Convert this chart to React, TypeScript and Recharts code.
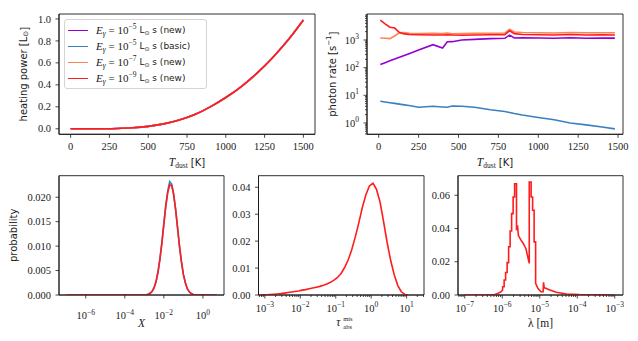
import React from "react";
import { LineChart, Line, XAxis, YAxis, Legend, ReferenceArea } from "recharts";

const SERIF = "'Liberation Serif', 'DejaVu Serif', serif";
const SANS = "'DejaVu Sans', 'Liberation Sans', sans-serif";
const INK = "#1a1a1a";
const TICK_FS = 10.5;
const SPINE = { stroke: INK, strokeWidth: 0.9 };

// series, in legend order
const seriesColors = ["#9400d3", "#3b7fc2", "#ff8356", "#ff1c1c"];
const seriesExp = [-5, -5, -7, -9];
const seriesKind = ["new", "basic", "new", "new"];

// heating power [Lsun] vs T_dust
const heatT = [0, 100, 200, 300, 400, 500, 600, 700, 800, 900, 1000, 1100, 1200, 1300, 1400, 1500];
const heatP = [0, 0.0001, 0.0008, 0.003, 0.009, 0.022, 0.045, 0.08, 0.13, 0.2, 0.285, 0.385, 0.505, 0.645, 0.805, 0.99];

// photon rate [1/s] vs T_dust
const rateT = [10, 40, 70, 100, 130, 160, 190, 250, 340, 400, 430, 460, 520, 600, 700, 790, 820, 850, 900, 1000, 1100, 1200, 1300, 1400, 1480];
const rateNew5 = [130, 151, 176, 204, 237, 276, 321, 433, 680, 510, 860, 870, 1000, 1050, 1120, 1150, 1500, 1180, 1200, 1180, 1150, 1200, 1150, 1180, 1170];
const rateBasic5 = [6.1, 5.75, 5.4, 5.1, 4.8, 4.5, 4.25, 3.7, 4.0, 3.8, 3.7, 4.1, 4.0, 3.7, 3.0, 2.6, 2.4, 2.2, 1.95, 1.58, 1.3, 1.0, 0.85, 0.71, 0.61];
const rateNew7 = [1180, 1150, 1120, 1400, 1850, 1850, 1740, 1700, 1740, 1700, 1780, 1660, 1700, 1740, 1740, 1780, 2450, 1950, 1860, 1820, 1780, 1860, 1820, 1820, 1820];
const rateNew9 = [5250, 3800, 2900, 2700, 1850, 1660, 1580, 1550, 1510, 1510, 1550, 1510, 1480, 1510, 1550, 1560, 2150, 1700, 1580, 1550, 1520, 1580, 1520, 1540, 1520];

// probability of X (log10 of X)
const xExp = [-7.0, -3.1, -3.0, -2.9, -2.8, -2.7, -2.6, -2.5, -2.4, -2.3, -2.2, -2.1, -2.0, -1.9, -1.8, -1.7, -1.6, -1.5, -1.4, -1.3, -1.2, -1.1, -1.0, -0.9, -0.8, -0.7, -0.6, -0.5, -0.4, -0.3, 0.7];
const xProbRed = [0, 0, 0.00002, 0.00006, 0.00015, 0.00035, 0.00075, 0.0015, 0.00275, 0.0047, 0.0074, 0.0107, 0.0145, 0.0182, 0.021, 0.0225, 0.0224, 0.0206, 0.0175, 0.0138, 0.01, 0.0068, 0.0042, 0.0025, 0.0013, 0.00065, 0.0003, 0.00012, 0.00004, 0, 0];
const xProbBlue = [0, 0, 0.00002, 0.00006, 0.00015, 0.00035, 0.00075, 0.0015, 0.00275, 0.0047, 0.0074, 0.0107, 0.0146, 0.0184, 0.0213, 0.0232, 0.0227, 0.0207, 0.0176, 0.0138, 0.01, 0.0068, 0.0042, 0.0025, 0.0013, 0.00065, 0.0003, 0.00012, 0.00004, 0, 0];

// probability of tau_abs^mis (bin centres, log10)
const tauExp = [-3.15, -3.05, -2.95, -2.85, -2.75, -2.65, -2.55, -2.45, -2.35, -2.25, -2.15, -2.05, -1.95, -1.85, -1.75, -1.65, -1.55, -1.45, -1.35, -1.25, -1.15, -1.05, -0.95, -0.85, -0.75, -0.65, -0.55, -0.45, -0.35, -0.25, -0.15, -0.05, 0.05, 0.15, 0.25, 0.35, 0.45, 0.55, 0.65, 0.75, 0.85, 0.95, 1.05];
const tauProb = [0, 0.0001, 0.0001, 0.0002, 0.0003, 0.0004, 0.0005, 0.0007, 0.0009, 0.0011, 0.0013, 0.0015, 0.0018, 0.002, 0.0023, 0.0026, 0.0029, 0.0032, 0.0036, 0.0041, 0.0047, 0.0055, 0.0065, 0.008, 0.0102, 0.013, 0.0168, 0.0215, 0.0268, 0.0325, 0.0372, 0.0405, 0.0415, 0.0392, 0.0345, 0.0272, 0.0195, 0.0128, 0.0075, 0.0035, 0.0012, 0.0002, 0];

// probability of wavelength (log10 of lambda in m)
const lamExp = [-7.0, -6.3, -6.2, -6.11, -6.03, -5.99, -5.99, -5.95, -5.95, -5.91, -5.91, -5.87, -5.87, -5.83, -5.83, -5.79, -5.79, -5.75, -5.75, -5.71, -5.71, -5.67, -5.67, -5.62, -5.62, -5.59, -5.57, -5.55, -5.5, -5.44, -5.37, -5.33, -5.28, -5.28, -5.23, -5.23, -5.19, -5.19, -5.15, -5.15, -5.11, -5.11, -5.05, -4.97, -4.91, -4.9, -4.88, -4.84, -4.73, -4.56, -4.29, -3.94, -3.5, -3.0];
const lamProb = [0, 0, 0.0003, 0.001, 0.002, 0.003, 0.005, 0.005, 0.009, 0.009, 0.0135, 0.0135, 0.0195, 0.0195, 0.029, 0.029, 0.0385, 0.0385, 0.049, 0.049, 0.059, 0.059, 0.067, 0.067, 0.04, 0.041, 0.036, 0.035, 0.033, 0.031, 0.028, 0.024, 0.019, 0.068, 0.068, 0.059, 0.059, 0.051, 0.051, 0.032, 0.032, 0.007, 0.004, 0.002, 0.002, 0.0076, 0.0045, 0.004, 0.003, 0.0016, 0.0006, 0.0002, 0.00005, 0];

// ticks
const tempTicks = [0, 250, 500, 750, 1000, 1250, 1500];
const heatTicks = [0, 0.2, 0.4, 0.6, 0.8, 1.0];
const xProbTicks = [0, 0.005, 0.01, 0.015, 0.02];
const tauProbTicks = [0, 0.01, 0.02, 0.03, 0.04];
const lamProbTicks = [0, 0.02, 0.04, 0.06];
const xMajorExp = [-6, -4, -2, 0];

// axis limits (log10 where the axis is logarithmic)
const tempLimL = [-75, 1575];
const tempLimR = [-73.5, 1531];
const heatLim = [-0.05, 1.045];
const rateLim = [-0.41, 3.94];
const xLim = [-7.37, 1.08];
const xProbLim = [0, 0.0244];
const tauLim = [-3.18, 1.49];
const tauProbLim = [0, 0.0443];
const lamLim = [-7.18, -2.78];
const lamProbLim = [0, 0.0718];

const pow10 = (e: number) => Math.pow(10, e);
const logTicks = (lo: number, hi: number) => {
  const out: number[] = [];
  for (let e = Math.floor(lo); e <= Math.ceil(hi); e++) {
    for (let m = 1; m <= 9; m++) {
      const v = m * pow10(e);
      const le = Math.log10(v);
      if (le >= lo && le <= hi) out.push(v);
    }
  }
  return out;
};
const isDecade = (v: number) => {
  const e = Math.log10(v);
  return Math.abs(e - Math.round(e)) < 1e-9;
};
const supTxt = (e: number) => (e < 0 ? `\u2212${-e}` : `${e}`);
const powLabel = (v: number) => {
  const e = Math.round(Math.log10(v));
  return [
    "10",
    <tspan key="s" dy={-4.5} fontSize={7.5}>
      {supTxt(e)}
    </tspan>,
  ];
};

type Fmt = (v: number) => React.ReactNode;

const bottomTick = (fmt: Fmt, log = false, gap = 16) => (p: any) => {
  const v = p.payload.value;
  const major = !log || isDecade(v);
  return (
    <g>
      <line x1={p.x} x2={p.x} y1={p.y} y2={p.y + (major ? 3.5 : 2)} stroke={INK} strokeWidth={0.8} />
      {major && (
        <text x={p.x} y={p.y + gap} textAnchor="middle" fontFamily={SERIF} fontSize={TICK_FS} fill={INK}>
          {fmt(v)}
        </text>
      )}
    </g>
  );
};

const leftTick = (fmt: Fmt, log = false) => (p: any) => {
  const v = p.payload.value;
  const major = !log || isDecade(v);
  return (
    <g>
      <line x1={p.x} x2={p.x - (major ? 3.5 : 2)} y1={p.y} y2={p.y} stroke={INK} strokeWidth={0.8} />
      {major && (
        <text x={p.x - 8} y={p.y + 3.6} textAnchor="end" fontFamily={SERIF} fontSize={TICK_FS} fill={INK}>
          {fmt(v)}
        </text>
      )}
    </g>
  );
};

const yTitle = (dist: number, body: React.ReactNode) => (p: any) => {
  const vb = p.viewBox;
  const cx = vb.x + vb.width - dist;
  const cy = vb.y + vb.height / 2;
  return (
    <text x={cx} y={cy} transform={`rotate(-90 ${cx} ${cy})`} textAnchor="middle" dominantBaseline="central" fontFamily={SANS} fontSize={10} fill={INK}>
      {body}
    </text>
  );
};

const xTitle = (body: React.ReactNode) => (p: any) => {
  const vb = p.viewBox;
  return (
    <text x={vb.x + vb.width / 2} y={vb.y + 31.5} textAnchor="middle" fontFamily={SERIF} fontSize={11.5} fill={INK}>
      {body}
    </text>
  );
};

const tDust = (
  <>
    <tspan fontStyle="italic">T</tspan>
    <tspan fontSize={7.5} dy={2}>dust</tspan>
    <tspan fontFamily={SANS} fontSize={10} dx={3} dy={-2}>[K]</tspan>
  </>
);

const fix = (n: number) => (v: number) => v.toFixed(n);

// the four spines, as a rectangle spanning both axis domains
const frame = (xl: number[], yl: number[]) => (
  <ReferenceArea x1={xl[0]} x2={xl[1]} y1={yl[0]} y2={yl[1]} fill="none" fillOpacity={0} stroke={INK} strokeWidth={0.9} strokeOpacity={1} ifOverflow="visible" />
);

const renderLegend = (props: any) => (
  <div
    style={{
      border: "1px solid #d4d4d4",
      borderRadius: 3,
      background: "rgba(255,255,255,0.85)",
      padding: "2px 4px 2px 2px",
      width: 143,
      boxSizing: "border-box",
      color: INK,
    }}
  >
    {(props.payload || []).map((entry: any, i: number) => (
      <div key={i} style={{ display: "flex", alignItems: "center", height: 16, whiteSpace: "nowrap" }}>
        <span style={{ display: "inline-block", width: 20, borderTop: `1.6px solid ${entry.color}`, margin: "0 8px 0 1px" }} />
        <span style={{ fontFamily: SERIF, fontSize: 11, lineHeight: "16px" }}>
          <i>E</i>
          <i style={{ fontSize: 7.5, verticalAlign: -2, lineHeight: 0 }}>γ</i>
          {" = 10"}
          <span style={{ fontSize: 7.5, verticalAlign: 5, lineHeight: 0 }}>{supTxt(seriesExp[i])}</span>
        </span>
        <span style={{ fontFamily: SANS, fontSize: 9, lineHeight: "16px", marginLeft: 3 }}>
          L<span style={{ fontSize: 6, verticalAlign: -2, lineHeight: 0 }}>⊙</span> s ({seriesKind[i]})
        </span>
      </div>
    ))}
  </div>
);

const lineProps = { dot: false, isAnimationActive: false, strokeWidth: 1.6 } as const;

export default function App() {
  const heatRows = heatT.map((t, i) => ({ t, p: heatP[i] }));
  const rateRows = rateT.map((t, i) => ({ t, n5: rateNew5[i], b5: rateBasic5[i], n7: rateNew7[i], n9: rateNew9[i] }));
  const xRed = xExp.map((e, i) => ({ x: pow10(e), p: xProbRed[i] }));
  const xBlue = xExp.map((e, i) => ({ x: pow10(e), p: xProbBlue[i] }));
  const tauRows = tauExp.map((e, i) => ({ x: pow10(e), p: tauProb[i] }));
  const lamRows = lamExp.map((e, i) => ({ x: pow10(e), p: lamProb[i] }));
  const rateKeys = ["n5", "b5", "n7", "n9"];
  const lg = (l: number[]) => l.map(pow10);

  return (
    <div style={{ position: "absolute", left: 0, top: 0, width: 638, height: 341, background: "#fff" }}>
      {/* heating power */}
      <div style={{ position: "absolute", left: 0, top: 0 }}>
        <LineChart width={320} height={170} data={heatRows} margin={{ top: 14, right: 5, left: 19, bottom: 0 }}>
          <XAxis dataKey="t" type="number" domain={tempLimL} allowDataOverflow ticks={tempTicks} interval={0} height={35.7}
            tickSize={0} tickMargin={0} tickLine={false} axisLine={SPINE} tick={bottomTick((v) => String(v))} label={xTitle(tDust)} />
          <YAxis type="number" domain={heatLim} allowDataOverflow ticks={heatTicks} interval={0} width={40}
            tickSize={0} tickMargin={0} tickLine={false} axisLine={SPINE} tick={leftTick(fix(1))}
            label={yTitle(35, <>heating power [L<tspan fontSize={7} dy={2}>⊙</tspan><tspan dy={-2}>]</tspan></>)} />
          {seriesColors.map((c, i) => (
            <Line key={i} type="monotone" dataKey="p" name={`s${i}`} stroke={c} {...lineProps} />
          ))}
          {frame(tempLimL, heatLim)}
          <Legend layout="vertical" align="center" verticalAlign="middle" content={renderLegend} wrapperStyle={{ left: 64, top: 19, width: "auto" }} />
        </LineChart>
      </div>

      {/* photon rate */}
      <div style={{ position: "absolute", left: 320, top: 0 }}>
        <LineChart width={318} height={170} data={rateRows} margin={{ top: 14, right: 15, left: 7, bottom: 0 }}>
          <XAxis dataKey="t" type="number" domain={tempLimR} allowDataOverflow ticks={tempTicks} interval={0} height={35.7}
            tickSize={0} tickMargin={0} tickLine={false} axisLine={SPINE} tick={bottomTick((v) => String(v))} label={xTitle(tDust)} />
          <YAxis type="number" scale="log" domain={lg(rateLim)} allowDataOverflow ticks={logTicks(rateLim[0], rateLim[1])}
            interval={0} width={40} tickSize={0} tickMargin={0} tickLine={false} axisLine={SPINE} tick={leftTick(powLabel, true)}
            label={yTitle(34, <>photon rate [s<tspan fontSize={7} dy={-4}>−1</tspan><tspan dy={4}>]</tspan></>)} />
          {rateKeys.map((k, i) => (
            <Line key={k} type="linear" dataKey={k} stroke={seriesColors[i]} {...lineProps} />
          ))}
          {frame(tempLimR, lg(rateLim))}
        </LineChart>
      </div>

      {/* X */}
      <div style={{ position: "absolute", left: 0, top: 170 }}>
        <LineChart width={230} height={171} margin={{ top: 5.7, right: 6, left: 19, bottom: 0 }}>
          <XAxis dataKey="x" type="number" scale="log" domain={lg(xLim)} allowDataOverflow ticks={xMajorExp.map(pow10)}
            interval={0} height={46} tickSize={0} tickMargin={0} tickLine={false} axisLine={SPINE} tick={bottomTick(powLabel, true, 24)}
            label={xTitle(<tspan fontStyle="italic">X</tspan>)} />
          <YAxis type="number" domain={xProbLim} allowDataOverflow ticks={xProbTicks} interval={0} width={40}
            tickSize={0} tickMargin={0} tickLine={false} axisLine={SPINE} tick={leftTick(fix(3))} label={yTitle(45, "probability")} />
          <Line data={xBlue} type="linear" dataKey="p" stroke={seriesColors[1]} {...lineProps} />
          <Line data={xRed} type="linear" dataKey="p" stroke={seriesColors[3]} {...lineProps} />
          {frame(lg(xLim), xProbLim)}
        </LineChart>
      </div>

      {/* tau */}
      <div style={{ position: "absolute", left: 230, top: 170 }}>
        <LineChart width={200} height={171} margin={{ top: 5.7, right: 6, left: 0.5, bottom: 0 }}>
          <XAxis dataKey="x" type="number" scale="log" domain={lg(tauLim)} allowDataOverflow ticks={logTicks(tauLim[0], tauLim[1])}
            interval={0} height={46} tickSize={0} tickMargin={0} tickLine={false} axisLine={SPINE} tick={bottomTick(powLabel, true, 16.7)}
            label={(p: any) => {
              const vb = p.viewBox;
              const cx = vb.x + vb.width / 2;
              const by = vb.y + 31;
              return (
                <g fontFamily={SERIF} fill={INK}>
                  <text x={cx - 3} y={by} textAnchor="middle" fontStyle="italic" fontSize={11.5}>τ</text>
                  <text x={cx + 2} y={by - 5.5} fontSize={6.5}>mis</text>
                  <text x={cx + 2} y={by + 3} fontSize={6.5}>abs</text>
                </g>
              );
            }} />
          <YAxis type="number" domain={tauProbLim} allowDataOverflow ticks={tauProbTicks} interval={0} width={28}
            tickSize={0} tickMargin={0} tickLine={false} axisLine={SPINE} tick={leftTick(fix(2))} />
          <Line data={tauRows} type="linear" dataKey="p" stroke={seriesColors[3]} {...lineProps} />
          {frame(lg(tauLim), tauProbLim)}
        </LineChart>
      </div>

      {/* lambda */}
      <div style={{ position: "absolute", left: 430, top: 170 }}>
        <LineChart width={208} height={171} margin={{ top: 5.7, right: 15, left: 0, bottom: 0 }}>
          <XAxis dataKey="x" type="number" scale="log" domain={lg(lamLim)} allowDataOverflow ticks={logTicks(lamLim[0], lamLim[1])}
            interval={0} height={46} tickSize={0} tickMargin={0} tickLine={false} axisLine={SPINE} tick={bottomTick(powLabel, true, 16.7)}
            label={xTitle(<>λ [m]</>)} />
          <YAxis type="number" domain={lamProbLim} allowDataOverflow ticks={lamProbTicks} interval={0} width={28}
            tickSize={0} tickMargin={0} tickLine={false} axisLine={SPINE} tick={leftTick(fix(2))} />
          <Line data={lamRows} type="linear" dataKey="p" stroke={seriesColors[3]} {...lineProps} />
          {frame(lg(lamLim), lamProbLim)}
        </LineChart>
      </div>
    </div>
  );
}
